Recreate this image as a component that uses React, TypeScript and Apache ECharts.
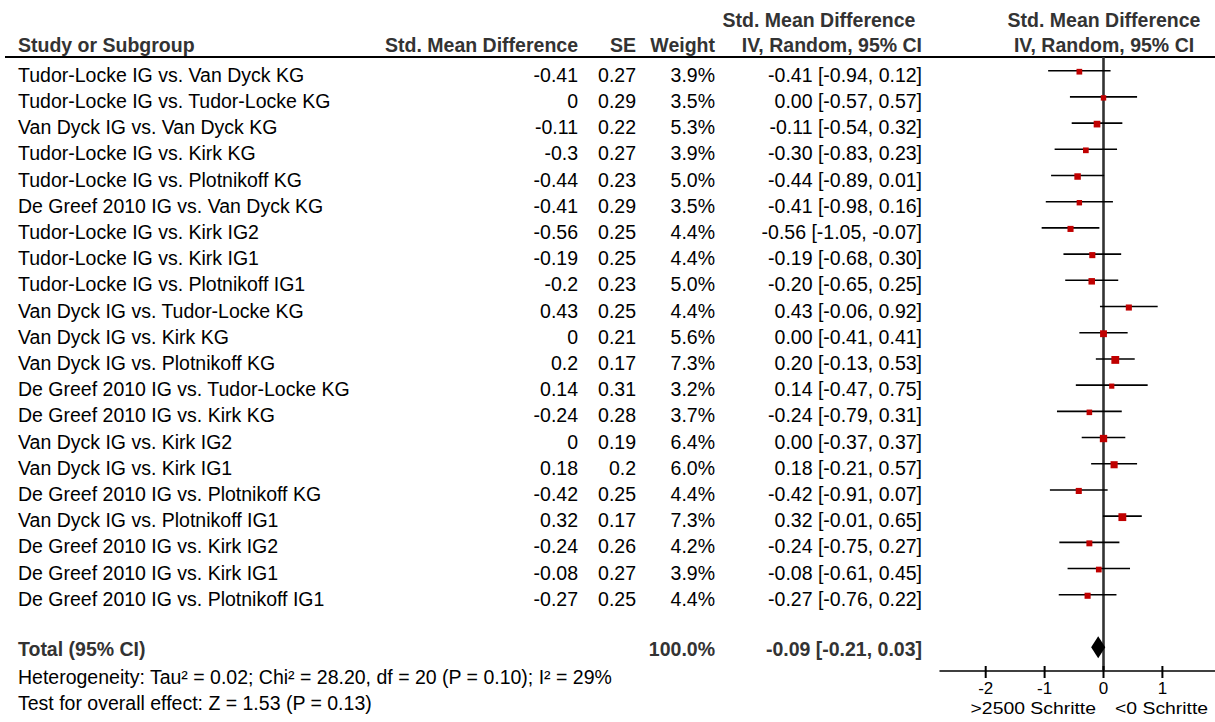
import React, { useEffect, useRef } from "react";
import * as echarts from "echarts";

const studies = [
  "Tudor-Locke IG vs. Van Dyck KG",
  "Tudor-Locke IG vs. Tudor-Locke KG",
  "Van Dyck IG vs. Van Dyck KG",
  "Tudor-Locke IG vs. Kirk KG",
  "Tudor-Locke IG vs. Plotnikoff KG",
  "De Greef 2010 IG vs. Van Dyck KG",
  "Tudor-Locke IG vs. Kirk IG2",
  "Tudor-Locke IG vs. Kirk IG1",
  "Tudor-Locke IG vs. Plotnikoff IG1",
  "Van Dyck IG vs. Tudor-Locke KG",
  "Van Dyck IG vs. Kirk KG",
  "Van Dyck IG vs. Plotnikoff KG",
  "De Greef 2010 IG vs. Tudor-Locke KG",
  "De Greef 2010 IG vs. Kirk KG",
  "Van Dyck IG vs. Kirk IG2",
  "Van Dyck IG vs. Kirk IG1",
  "De Greef 2010 IG vs. Plotnikoff KG",
  "Van Dyck IG vs. Plotnikoff IG1",
  "De Greef 2010 IG vs. Kirk IG2",
  "De Greef 2010 IG vs. Kirk IG1",
  "De Greef 2010 IG vs. Plotnikoff IG1",
];
const smd = [-0.41, 0, -0.11, -0.3, -0.44, -0.41, -0.56, -0.19, -0.2, 0.43, 0, 0.2, 0.14, -0.24, 0, 0.18, -0.42, 0.32, -0.24, -0.08, -0.27];
const se = [0.27, 0.29, 0.22, 0.27, 0.23, 0.29, 0.25, 0.25, 0.23, 0.25, 0.21, 0.17, 0.31, 0.28, 0.19, 0.2, 0.25, 0.17, 0.26, 0.27, 0.25];
const weights = [3.9, 3.5, 5.3, 3.9, 5.0, 3.5, 4.4, 4.4, 5.0, 4.4, 5.6, 7.3, 3.2, 3.7, 6.4, 6.0, 4.4, 7.3, 4.2, 3.9, 4.4];
const ciLow = [-0.94, -0.57, -0.54, -0.83, -0.89, -0.98, -1.05, -0.68, -0.65, -0.06, -0.41, -0.13, -0.47, -0.79, -0.37, -0.21, -0.91, -0.01, -0.75, -0.61, -0.76];
const ciHigh = [0.12, 0.57, 0.32, 0.23, 0.01, 0.16, -0.07, 0.3, 0.25, 0.92, 0.41, 0.53, 0.75, 0.31, 0.37, 0.57, 0.07, 0.65, 0.27, 0.45, 0.22];

const totalEst = -0.09;
const totalLow = -0.21;
const totalHigh = 0.03;
const totalWeight = 100.0;
const totalRow = 22;

const tickValues = [-2, -1, 0, 1];
const heterogeneityText = "Heterogeneity: Tau\u00b2 = 0.02; Chi\u00b2 = 28.20, df = 20 (P = 0.10); I\u00b2 = 29%";
const overallText = "Test for overall effect: Z = 1.53 (P = 0.13)";
const favoursLeft = ">2500 Schritte";
const favoursRight = "<0 Schritte";

const FONT = "'Liberation Sans', Arial, sans-serif";
const FS = 19.5;
const FS_AXIS = 17;
const COL_NAME = 18;
const COL_SMD = 578;
const COL_SE = 636;
const COL_W = 715;
const COL_CI = 922;
const TEXT_DY = 4;
const Y_MIN = -0.523;
const Y_MAX = 22.91;

function txt(text: string, x: number, y: number, align: string, bold = false, color = "#000", size = FS, scaleX = 1) {
  return {
    type: "text",
    x,
    y,
    scaleX,
    style: {
      text,
      fill: color,
      fontSize: size,
      fontFamily: FONT,
      fontWeight: bold ? "bold" : "normal",
      align,
      textAlign: align,
      verticalAlign: "middle",
      textVerticalAlign: "middle",
    },
  };
}

export default function App() {
  const ref = useRef<HTMLDivElement>(null);
  useEffect(() => {
    if (!ref.current) return;
    const chart = echarts.init(ref.current, undefined, { renderer: "svg" });

    const rows = studies.map((name, i) => [ciLow[i], ciHigh[i], smd[i], i, weights[i]]);

    const option: any = {
      animation: false,
      grid: { left: 940, top: 57, width: 275, height: 614, containLabel: false },
      xAxis: {
        type: "value",
        min: -2.776,
        max: 1.893,
        position: "bottom",
        axisLine: { show: true, onZero: false, lineStyle: { color: "#000", width: 1.5 } },
        axisTick: { show: false },
        splitLine: { show: false },
        axisLabel: {
          show: true,
          customValues: tickValues,
          margin: 9,
          fontSize: FS_AXIS,
          fontFamily: FONT,
          color: "#000",
        },
      },
      yAxis: {
        type: "value",
        min: Y_MIN,
        max: Y_MAX,
        inverse: true,
        show: false,
        splitLine: { show: false },
      },
      series: [
        {
          type: "custom",
          clip: false,
          data: [[0]],
          z: 1,
          renderItem: (params: any, api: any) => {
            const top = api.coord([api.value(0), Y_MIN]);
            const bot = api.coord([api.value(0), Y_MAX]);
            return {
              type: "line",
              shape: { x1: top[0], y1: top[1], x2: bot[0], y2: bot[1] },
              style: { stroke: "#333", lineWidth: 2.6 },
            };
          },
        },
        {
          type: "custom",
          clip: false,
          data: tickValues.map((v) => [v]),
          renderItem: (params: any, api: any) => {
            const p = api.coord([api.value(0), Y_MAX]);
            return {
              type: "line",
              shape: { x1: p[0], y1: p[1] - 5, x2: p[0], y2: p[1] + 7 },
              style: { stroke: "#000", lineWidth: 2 },
            };
          },
        },
        {
          type: "custom",
          clip: false,
          data: rows,
          z: 3,
          renderItem: (params: any, api: any) => {
            const lo = api.coord([api.value(0), api.value(3)]);
            const hi = api.coord([api.value(1), api.value(3)]);
            const c = api.coord([api.value(2), api.value(3)]);
            const s = 2.9 * Math.sqrt(api.value(4));
            return {
              type: "group",
              children: [
                {
                  type: "line",
                  shape: { x1: lo[0], y1: lo[1], x2: hi[0], y2: hi[1] },
                  style: { stroke: "#000", lineWidth: 1.6 },
                },
                {
                  type: "rect",
                  shape: { x: c[0] - s / 2, y: c[1] - s / 2 + 1, width: s, height: s },
                  style: { fill: "#c00000" },
                },
              ],
            };
          },
        },
        {
          type: "custom",
          clip: false,
          data: rows,
          renderItem: (params: any, api: any) => {
            const i = params.dataIndex;
            const y = api.coord([0, api.value(3)])[1] + TEXT_DY;
            const ci = `${smd[i].toFixed(2)} [${ciLow[i].toFixed(2)}, ${ciHigh[i].toFixed(2)}]`;
            return {
              type: "group",
              children: [
                txt(studies[i], COL_NAME, y, "left"),
                txt(String(smd[i]), COL_SMD, y, "right"),
                txt(String(se[i]), COL_SE, y, "right"),
                txt(weights[i].toFixed(1) + "%", COL_W, y, "right"),
                txt(ci, COL_CI, y, "right"),
              ],
            };
          },
        },
        {
          type: "custom",
          clip: false,
          z: 3,
          data: [[totalLow, totalEst, totalHigh, totalRow]],
          renderItem: (params: any, api: any) => {
            const lo = api.coord([api.value(0), api.value(3)]);
            const mid = api.coord([api.value(1), api.value(3)]);
            const hi = api.coord([api.value(2), api.value(3)]);
            const h = 11;
            const y = mid[1] + 2;
            const ci = `${totalEst.toFixed(2)} [${totalLow.toFixed(2)}, ${totalHigh.toFixed(2)}]`;
            return {
              type: "group",
              children: [
                {
                  type: "polygon",
                  shape: { points: [[lo[0], lo[1]], [mid[0], mid[1] - h], [hi[0], hi[1]], [mid[0], mid[1] + h]] },
                  style: { fill: "#000" },
                },
                txt("Total (95% CI)", COL_NAME, y, "left", true, "#333"),
                txt(totalWeight.toFixed(1) + "%", COL_W, y, "right", true, "#333"),
                txt(ci, COL_CI, y, "right", true, "#333"),
              ],
            };
          },
        },
      ],
      graphic: [
        { type: "line", shape: { x1: 5, y1: 57, x2: 1215, y2: 57 }, style: { stroke: "#000", lineWidth: 2 } },
        txt("Study or Subgroup", COL_NAME, 45, "left", true, "#333"),
        txt("Std. Mean Difference", COL_SMD, 45, "right", true, "#333"),
        txt("SE", COL_SE, 45, "right", true, "#333"),
        txt("Weight", COL_W, 45, "right", true, "#333"),
        txt("Std. Mean Difference", 819, 20, "center", true, "#333"),
        txt("IV, Random, 95% CI", COL_CI, 45, "right", true, "#333"),
        txt("Std. Mean Difference", 1104, 20, "center", true, "#333"),
        txt("IV, Random, 95% CI", 1104, 45, "center", true, "#333"),
        txt(heterogeneityText, COL_NAME, 677, "left"),
        txt(overallText, COL_NAME, 703, "left"),
        txt(favoursLeft, 1096, 708, "right", false, "#000", FS_AXIS, 1.14),
        txt(favoursRight, 1115, 708, "left", false, "#000", FS_AXIS, 1.14),
      ],
    };
    chart.setOption(option);
    return () => chart.dispose();
  }, []);
  return <div ref={ref} style={{ position: "absolute", left: 0, top: 0, width: 1215, height: 722 }} />;
}
